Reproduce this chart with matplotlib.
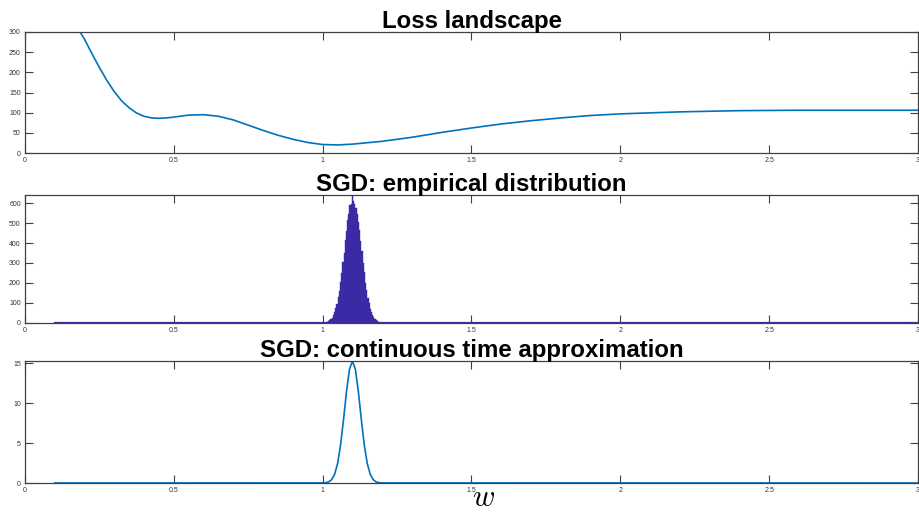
import numpy as np
import matplotlib
matplotlib.use("Agg")
import matplotlib.pyplot as plt

plt.rcParams['font.family'] = ['Liberation Sans', 'DejaVu Sans']
plt.rcParams['mathtext.fontset'] = 'cm'

# Loss landscape
w_loss = [0.10, 0.125, 0.15, 0.175, 0.20, 0.225, 0.25, 0.275, 0.30, 0.325, 0.35, 0.375,
          0.40, 0.425, 0.45, 0.475, 0.50, 0.55, 0.60, 0.65, 0.70, 0.75, 0.80, 0.85,
          0.90, 0.95, 1.00, 1.05, 1.10, 1.20, 1.30, 1.40, 1.50, 1.60, 1.70, 1.80,
          1.90, 2.00, 2.20, 2.40, 2.60, 2.80, 3.00]
loss = [420, 382, 345, 312, 282, 246, 212, 180, 152, 129, 112, 99,
        91, 87, 86, 87, 89, 94, 95, 91, 82, 69, 56, 44,
        34, 26, 21, 20, 22, 29, 39, 51, 62, 72, 80, 87,
        93, 97, 102, 105, 106, 106, 106]

# SGD empirical histogram (bin width 0.004)
hist_start = 1.010
bin_width = 0.004
counts = [3, 5, 9, 11, 18, 25, 38, 51, 73, 94, 128, 158, 206, 248, 305, 352,
          415, 460, 515, 548, 590, 598, 640, 612, 596, 579, 548, 505, 468, 409,
          360, 300, 254, 199, 165, 124, 98, 70, 53, 36, 27, 16, 12, 8, 5]
hist_range = [0.1, 3.0]

# continuous time approximation
w_ct = [0.10, 1.00, 1.01, 1.02, 1.03, 1.04, 1.05, 1.06, 1.07, 1.08, 1.09, 1.10,
        1.11, 1.12, 1.13, 1.14, 1.15, 1.16, 1.17, 1.18, 1.19, 1.20, 3.00]
density = [0, 0.01, 0.04, 0.13, 0.41, 1.07, 2.4, 4.7, 7.9, 11.4, 14.2, 15.25,
           14.2, 11.4, 7.9, 4.7, 2.4, 1.07, 0.41, 0.13, 0.04, 0.01, 0]

xticks = [0, 0.5, 1, 1.5, 2, 2.5, 3]
xticklabels = ['0', '0.5', '1', '1.5', '2', '2.5', '3']

line_color = '#0072BD'
hist_color = '#3b2aa6'
axis_color = '#404040'

fig = plt.figure(figsize=(9.19, 5.12), dpi=100)
left, width = 25 / 919, 893 / 919
ax1 = fig.add_axes([left, 1 - 153 / 512, width, 121 / 512])
ax2 = fig.add_axes([left, 1 - 322.5 / 512, width, 127.5 / 512])
ax3 = fig.add_axes([left, 1 - 483 / 512, width, 122 / 512])


def style(ax, yticks):
    ax.set_xlim(0, 3)
    ax.set_xticks(xticks)
    ax.set_xticklabels(xticklabels)
    ax.set_yticks(yticks)
    ax.tick_params(direction='in', length=6, width=0.8, colors=axis_color,
                   labelsize=5, top=True, right=True, pad=3,
                   labelcolor='#333333')
    for s in ax.spines.values():
        s.set_color(axis_color)
        s.set_linewidth(0.9)


title_size = 17.3

ax1.plot(w_loss, loss, color=line_color, lw=1.2)
ax1.set_ylim(0, 300)
style(ax1, [0, 50, 100, 150, 200, 250, 300])
ax1.set_title('Loss landscape', fontsize=title_size, fontweight='bold', pad=3)

edges = hist_start + bin_width * np.arange(len(counts))
ax2.plot(hist_range, [0, 0], color=hist_color, lw=1.6)
ax2.bar(edges, counts, width=bin_width, align='edge', color=hist_color,
        edgecolor=hist_color, linewidth=0.3)
ax2.set_ylim(0, 642)
style(ax2, [0, 100, 200, 300, 400, 500, 600])
ax2.set_title('SGD: empirical distribution', fontsize=title_size, fontweight='bold', pad=3)

ax3.plot(w_ct, density, color=line_color, lw=1.2)
ax3.set_ylim(0, 15.25)
style(ax3, [0, 5, 10, 15])
ax3.set_title('SGD: continuous time approximation', fontsize=title_size, fontweight='bold', pad=3)
ax3.set_xlabel('$w$', fontsize=22)
ax3.xaxis.set_label_coords(0.513, 0.0)

fig.savefig('out.png', dpi=100)
